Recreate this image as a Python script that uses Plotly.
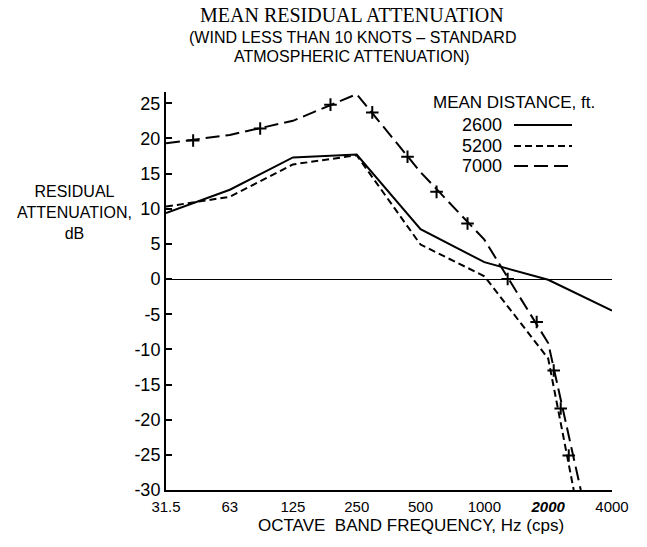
import plotly.graph_objects as go

# ---- data ----
freq_2600 = [31.5, 63, 125, 250, 500, 1000, 2000, 4000]
att_2600 = [9.4, 12.7, 17.3, 17.7, 7.1, 2.4, -0.1, -4.5]

freq_5200 = [31.5, 63, 125, 250, 500, 1000, 2000, 2640]
att_5200 = [10.3, 11.7, 16.3, 17.6, 4.9, 0.4, -11.3, -30]

freq_7000 = [31.5, 63, 125, 250, 500, 1000, 2000, 2850]
att_7000 = [19.3, 20.5, 22.5, 26.3, 15.2, 5.6, -9.1, -30]

mark_freq_7000 = [42.3, 87.6, 188, 296, 434, 595, 833, 1288, 1765, 2124, 2292, 2501]
mark_att_7000 = [19.7, 21.4, 24.8, 23.7, 17.4, 12.4, 7.9, 0.0, -6.1, -13.0, -18.4, -25.1]

x_tickvals = [31.5, 63, 125, 250, 500, 1000, 2000, 4000]
x_ticktext = ["31.5", "63", "125", "250", "500", "1000", "<b><i>2000</i></b>", "4000"]
y_tickvals = [25, 20, 15, 10, 5, 0, -5, -10, -15, -20, -25, -30]
y_ticktext = ["25", "20", "15", "10", "5", "0", "-5", "-10", "-15", "-20", "-25", "-30"]

legend_labels = ["2600", "5200", "7000"]

SANS = "Liberation Sans, Arial, sans-serif"
SERIF = "Liberation Serif, Times New Roman, serif"

fig = go.Figure()
fig.add_trace(go.Scatter(x=freq_2600, y=att_2600, mode="lines",
                         line=dict(color="black", width=2), showlegend=False))
fig.add_trace(go.Scatter(x=freq_5200, y=att_5200, mode="lines",
                         line=dict(color="black", width=2, dash="7px,4px"), showlegend=False))
fig.add_trace(go.Scatter(x=freq_7000, y=att_7000, mode="lines",
                         line=dict(color="black", width=2, dash="14px,6px"), showlegend=False))
fig.add_trace(go.Scatter(x=mark_freq_7000, y=mark_att_7000, mode="markers",
                         marker=dict(symbol="cross-thin", size=9,
                                     line=dict(color="black", width=2)),
                         showlegend=False))

# layout geometry helpers (pixel -> paper)
L, R, T, B = 166, 35, 92, 57
W, H = 647, 547
PW, PH = W - L - R, H - T - B


def px(x):
    return (x - L) / PW


def py(y):
    return (H - B - y) / PH


annotations = [
    dict(text="MEAN RESIDUAL ATTENUATION", x=px(352), y=py(15),
         font=dict(family=SERIF, size=20, color="black")),
    dict(text="(WIND LESS THAN 10 KNOTS \u2013 STANDARD", x=px(352), y=py(38),
         font=dict(family=SANS, size=16, color="black")),
    dict(text="ATMOSPHERIC ATTENUATION)", x=px(352), y=py(56),
         font=dict(family=SANS, size=16, color="black")),
    dict(text="RESIDUAL<br>ATTENUATION,<br>dB", x=px(74), y=py(212), align="center",
         font=dict(family=SANS, size=16, color="black")),
    dict(text="OCTAVE  BAND FREQUENCY, Hz (cps)", x=px(411), y=py(525),
         font=dict(family=SANS, size=17, color="black")),
    dict(text="MEAN DISTANCE, ft.", x=px(514), y=py(102),
         font=dict(family=SANS, size=17, color="black")),
]
for lab, yy in zip(legend_labels, [125, 146, 166]):
    annotations.append(dict(text=lab, x=px(504), y=py(yy), xanchor="right",
                            font=dict(family=SANS, size=18, color="black")))
for a in annotations:
    a.update(xref="paper", yref="paper", showarrow=False)
    a.setdefault("xanchor", "center")
    a.setdefault("yanchor", "middle")

shapes = []
for yy, dsh in zip([125, 146, 166], ["solid", "7px,4px", "14px,6px"]):
    shapes.append(dict(type="line", xref="paper", yref="paper",
                       x0=px(514), x1=px(572), y0=py(yy), y1=py(yy),
                       line=dict(color="black", width=2, dash=dsh)))

fig.update_layout(
    width=W, height=H,
    margin=dict(l=L, r=R, t=T, b=B),
    paper_bgcolor="white", plot_bgcolor="white",
    annotations=annotations, shapes=shapes,
    showlegend=False,
    xaxis=dict(type="log", range=[1.49831, 3.60206],
               tickvals=x_tickvals, ticktext=x_ticktext,
               showgrid=False, zeroline=False,
               showline=True, linecolor="black", linewidth=2,
               ticks="", ticklabelstandoff=2,
               tickfont=dict(family=SANS, size=15, color="black")),
    yaxis=dict(range=[-30, 26.6], tickvals=y_tickvals, ticktext=y_ticktext,
               showgrid=False, zeroline=True, zerolinecolor="black", zerolinewidth=1,
               showline=True, linecolor="black", linewidth=2,
               ticks="inside", ticklen=6, tickwidth=2, tickcolor="black",
               tickfont=dict(family=SANS, size=18, color="black")),
)

fig.write_html("out.html")
